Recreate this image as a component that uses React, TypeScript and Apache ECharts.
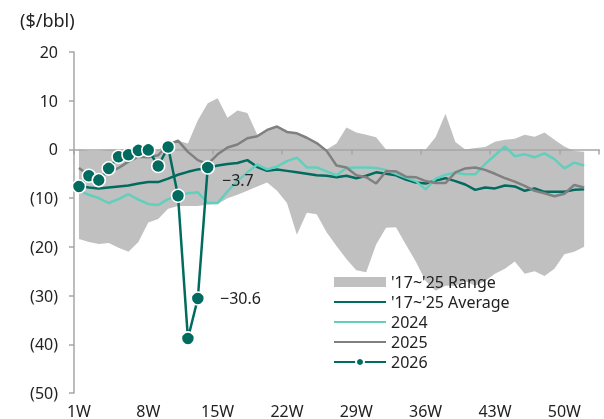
import React, { useEffect, useRef } from "react";
import * as echarts from "echarts";

const weeks: string[] = Array.from({ length: 53 }, (_, i) => `${i + 1}W`);

const rangeMax = [0, -0.3, -0.3, 0, 0, 0, 0, 0, 0, 1, 1.8, 1.2, 6, 9.5, 10.5, 6.5, 8, 7.5, 3, 4, 4.7, 3.6, 3.3, 2.4, 1.3, 0, 1.2, 4.5, 3.5, 3, 2.5, 0, 0, 0, 0, 0, 2.5, 7.3, 1.5, 0, 0.3, 0.5, 1.6, 2, 2.2, 3, 2.6, 3.5, 2, 0.6, -0.3, -0.5];
const rangeMin = [-18.4, -19, -19.4, -19.2, -20.2, -21, -19, -15, -14.3, -12.2, -11.6, -11.6, -11.6, -11.3, -11.2, -10, -9.3, -8.5, -7.6, -6.8, -8.5, -11, -17.5, -13, -13.3, -17, -19.8, -22.5, -24.8, -25.2, -19.5, -16.1, -16, -19.5, -23, -27, -29, -28, -28, -27, -28, -27, -25.5, -24.5, -23, -25.5, -25, -26, -24.5, -21.5, -21, -20];
const avg = [-7.5, -7.8, -8, -7.8, -7.6, -7.4, -7, -6.7, -6.7, -6, -5.2, -4.6, -4.1, -3.8, -3.3, -3, -2.8, -2.2, -3.6, -4.4, -4.1, -4.4, -4.7, -5, -5.3, -5.4, -5.7, -5.4, -5.9, -5.4, -4.7, -5, -5.3, -6.2, -6.8, -7, -6.4, -5.9, -6.5, -7.2, -8.3, -7.8, -8, -7.4, -7.6, -8.5, -8, -8.7, -8.7, -8.7, -8.3, -8.2];
const y2024 = [-8.5, -9.3, -10, -11, -10.2, -9.2, -10.3, -11.2, -11.4, -10.2, -9.5, -9, -8.8, -11, -11, -8.6, -6.5, -4.7, -3.1, -4.1, -3.5, -2.4, -1.7, -3.7, -3.7, -4.5, -5.3, -3.8, -3.7, -3.7, -3.8, -4.2, -5, -5.8, -6.5, -8.2, -6, -5.2, -4.8, -5.1, -5.1, -3, -1.2, 0.6, -1.4, -1, -1.6, -0.8, -2, -3.9, -2.7, -3.3];
const y2025 = [-3.8, -5.3, -5.6, -4.8, -3.8, -2.5, -1.5, -1.6, -1.2, 1, 1.8, -0.5, -2.2, -3, -1, 0.4, 1, 2.3, 2.7, 4, 4.7, 3.6, 3.3, 2.4, 1.3, -0.3, -3.3, -3.7, -5.3, -5.7, -7, -4.5, -4.5, -5.6, -5.7, -6.5, -6.9, -6.9, -4.7, -3.9, -3.7, -4.2, -5, -5.9, -6.6, -7.5, -8.5, -9, -9.6, -9.1, -7.3, -7.8];
const y2026 = [-7.6, -5.4, -6.3, -3.9, -1.5, -1.1, -0.2, -0.1, -3.4, 0.5, -9.5, -38.8, -30.6, -3.7];
const yTicks = [-50, -40, -30, -20, -10, 0, 10, 20];

const FONT = "'Noto Sans', sans-serif";
const TEXT = "#222";

export default function App() {
  const ref = useRef<HTMLDivElement>(null);
  useEffect(() => {
    if (!ref.current) return;
    const chart = echarts.init(ref.current, undefined, { renderer: "svg" });
    const diff = rangeMax.map((v, i) => +(v - rangeMin[i]).toFixed(2));
    const labelIdx: Record<number, { text: string; offset: number[] }> = {
      12: { text: "\u221230.6", offset: [10, 0] },
      13: { text: "\u22123.7", offset: [2, 13] },
    };
    const d2026 = y2026.map((v, i) =>
      labelIdx[i]
        ? {
            value: v,
            label: {
              show: true,
              position: "right",
              formatter: labelIdx[i].text,
              offset: labelIdx[i].offset,
              fontSize: 16,
              color: TEXT,
              fontFamily: FONT,
            },
          }
        : v
    );
    const hideSym = { itemStyle: { opacity: 0 } };
    chart.setOption({
      animation: false,
      textStyle: { fontFamily: FONT },
      title: {
        text: "($/bbl)",
        left: 15,
        top: 6,
        textStyle: { fontSize: 18, fontWeight: "normal", color: TEXT, fontFamily: FONT },
      },
      legend: {
        orient: "vertical",
        left: 328,
        top: 269,
        itemWidth: 52,
        itemHeight: 10,
        itemGap: 4,
        textStyle: { fontSize: 16, color: TEXT, fontFamily: FONT },
        data: [
          { name: "'17~'25 Range", icon: "rect" },
          { name: "'17~'25 Average", ...hideSym },
          { name: "2024", ...hideSym },
          { name: "2025", ...hideSym },
          { name: "2026" },
        ],
      },
      grid: { left: 74, right: 5, top: 52, bottom: 25, containLabel: false },
      xAxis: [
        {
          type: "category",
          data: weeks,
          position: "bottom",
          boundaryGap: true,
          axisLine: { show: false, onZero: false },
          axisTick: { show: false },
          axisLabel: { interval: 6, fontSize: 16, color: TEXT, margin: 10, fontFamily: FONT },
          splitLine: { show: false },
        },
        {
          type: "category",
          data: weeks,
          position: "bottom",
          boundaryGap: true,
          z: 5,
          axisLine: { show: true, onZero: true, lineStyle: { color: "#a6a6a6", width: 1.5 } },
          axisTick: { show: true, interval: 6, length: 5, lineStyle: { color: "#a6a6a6", width: 1.5 } },
          axisLabel: { show: false },
          splitLine: { show: false },
        },
      ],
      yAxis: {
        type: "value",
        min: yTicks[0],
        max: yTicks[yTicks.length - 1],
        interval: 10,
        axisLine: { show: true, lineStyle: { color: "#a6a6a6", width: 1.5 } },
        axisTick: { show: true, length: 5, lineStyle: { color: "#a6a6a6", width: 1.5 } },
        splitLine: { show: false },
        axisLabel: {
          fontSize: 16,
          color: TEXT,
          margin: 16,
          fontFamily: FONT,
          formatter: (v: number) => (v < 0 ? `(${-v})` : `${v}`),
        },
      },
      series: [
        {
          name: "rangeBase",
          type: "line",
          data: rangeMin,
          stack: "range",
          stackStrategy: "all",
          symbol: "none",
          lineStyle: { opacity: 0 },
          silent: true,
          z: 2,
        },
        {
          name: "'17~'25 Range",
          type: "line",
          data: diff,
          stack: "range",
          stackStrategy: "all",
          symbol: "none",
          lineStyle: { opacity: 0, color: "#c0c0c0" },
          itemStyle: { color: "#c0c0c0" },
          areaStyle: { color: "#c0c0c0", opacity: 1 },
          silent: true,
          z: 2,
        },
        {
          name: "'17~'25 Average",
          type: "line",
          data: avg,
          symbol: "none",
          lineStyle: { color: "#006b5e", width: 2.5 },
          itemStyle: { color: "#006b5e" },
          z: 12,
        },
        {
          name: "2024",
          type: "line",
          data: y2024,
          symbol: "none",
          lineStyle: { color: "#62cfbd", width: 2.5 },
          itemStyle: { color: "#62cfbd" },
          z: 12,
        },
        {
          name: "2025",
          type: "line",
          data: y2025,
          symbol: "none",
          lineStyle: { color: "#808080", width: 2.5 },
          itemStyle: { color: "#808080" },
          z: 12,
        },
        {
          name: "2026",
          type: "line",
          data: d2026,
          symbol: "circle",
          symbolSize: 13,
          showAllSymbol: true,
          lineStyle: { color: "#006b5e", width: 2.5 },
          itemStyle: { color: "#006b5e", borderColor: "#ffffff", borderWidth: 1.5 },
          z: 20,
        },
      ],
    });
    return () => chart.dispose();
  }, []);
  return (
    <div
      ref={ref}
      style={{ position: "fixed", left: 0, top: 0, width: 604, height: 419 }}
    />
  );
}
